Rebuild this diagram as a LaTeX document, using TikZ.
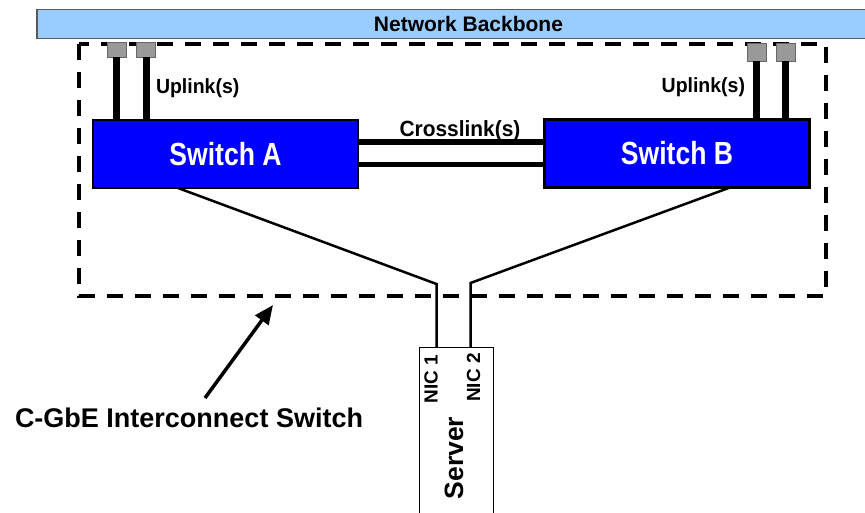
\documentclass[tikz,border=0pt]{standalone}
\usepackage{fontspec}
\setmainfont{Liberation Sans}
\usepackage{graphicx}
\usetikzlibrary{arrows.meta,calc}
\definecolor{bbblue}{HTML}{99CCFF}
\definecolor{swblue}{HTML}{0000FF}
\definecolor{portgray}{HTML}{999999}
\begin{document}
\begin{tikzpicture}[x=1pt,y=-1pt,
  every node/.style={inner sep=0pt, outer sep=0pt},
  backbone/.style={draw=black!65, line width=1.2pt, fill=bbblue, minimum width=863pt, minimum height=29pt,
    font=\bfseries\fontsize{21}{25}\selectfont},
  switchbox/.style={draw=black, line width=2.5pt, fill=swblue, minimum width=265pt, minimum height=68pt,
    text=white, font=\bfseries\fontsize{32}{36}\selectfont},
  portbox/.style={draw=black!60, line width=1pt, fill=portgray, minimum width=19pt, minimum height=15pt},
  serverbox/.style={draw=black, line width=1pt, fill=white, minimum width=74pt, minimum height=183pt},
  uplink/.style={line width=7pt},
  crosslink/.style={line width=5.5pt},
  niclink/.style={line width=2.5pt},
  groupbox/.style={line width=3.5pt, dash pattern=on 16pt off 12pt},
  pointer/.style={line width=3.5pt, -{Triangle[length=19pt,width=16pt]}},
  lbl/.style={font=\bfseries\fontsize{20.5}{24}\selectfont},
  niclbl/.style={font=\bfseries\fontsize{19}{22}\selectfont, rotate=90, anchor=base},
  srvlbl/.style={font=\bfseries\fontsize{26.5}{30}\selectfont, rotate=90, anchor=base},
  biglbl/.style={font=\bfseries\fontsize{27}{31}\selectfont, anchor=base west}
]
\useasboundingbox (0,0) rectangle (865,512);

% interconnect group (dashed)
\draw[groupbox] (79,44) rectangle (826,296);

% backbone
\node[backbone] (bb) at (468.5,24) {Network Backbone};

% switches
\node[switchbox] (swA) at (225.5,154) {\scalebox{0.83}[1]{Switch A}};
\node[switchbox] (swB) at (677,153.5) {\scalebox{0.83}[1]{Switch B}};

% ports on backbone
\node[portbox] (pA1) at (116.5,49.5) {};
\node[portbox] (pA2) at (146,49.5) {};
\node[portbox, minimum height=18pt] (pB1) at (756.5,52) {};
\node[portbox, minimum height=18pt] (pB2) at (785.5,52) {};

% uplinks
\draw[uplink] (pA1.south) -- (pA1.south |- swA.north);
\draw[uplink] (pA2.south) -- (pA2.south |- swA.north);
\draw[uplink] (pB1.south) -- (pB1.south |- swB.north);
\draw[uplink] (pB2.south) -- (pB2.south |- swB.north);
\node[lbl, anchor=base west] (ulA) at (156,93.5) {\scalebox{0.95}[1]{Uplink(s)}};
\node[lbl, anchor=base east] (ulB) at (745,92) {\scalebox{0.95}[1]{Uplink(s)}};

% crosslinks
\draw[crosslink] (swA.east |- 0,142) -- (swB.west |- 0,142);
\draw[crosslink] (swA.east |- 0,164.5) -- (swB.west |- 0,164.5);
\node[lbl, font=\bfseries\fontsize{22}{26}\selectfont, anchor=base] (xl) at (460,136.5) {\scalebox{0.95}[1]{Crosslink(s)}};

% server
\node[serverbox] (server) at (456,438.5) {};
\coordinate (b1) at (436.5,284);
\coordinate (b2) at (470.5,283);
\draw[niclink] ([xshift=-47.5pt]swA.south) -- (b1) -- (b1 |- server.north);
\draw[niclink] ([xshift=53pt]swB.south) -- (b2) -- (b2 |- server.north);
\node[niclbl] (nic1) at (437.5,379) {NIC 1};
\node[niclbl] (nic2) at (480,377.5) {NIC 2};
\node[srvlbl] (srv) at (463,458) {Server};

% label and pointer
\node[biglbl] (cg) at (15,427) {C-GbE Interconnect Switch};
\coordinate (atail) at (205,398);
\coordinate (atip) at (273,305);
\draw[pointer] (atail) -- (atip);
\end{tikzpicture}
\end{document}
